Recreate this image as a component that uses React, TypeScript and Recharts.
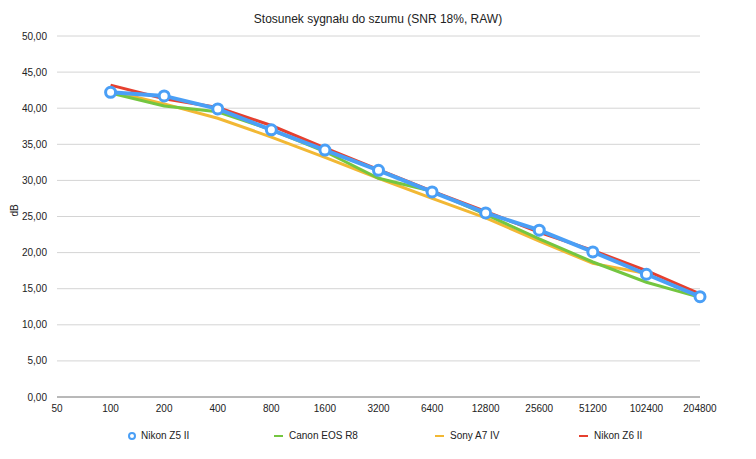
import { LineChart, Line, XAxis, YAxis, CartesianGrid } from "recharts";

// ISO values along the x axis (first one has no data)
const isoLabels = ["50", "100", "200", "400", "800", "1600", "3200", "6400", "12800", "25600", "51200", "102400", "204800"];

// SNR 18% in dB
const nikonZ5II = [null, 42.2, 41.7, 39.9, 37.0, 34.2, 31.4, 28.4, 25.5, 23.1, 20.1, 17.0, 13.9];
const canonR8 = [null, 42.1, 40.3, 39.5, 37.0, 34.0, 30.3, 28.5, 25.3, 21.9, 18.7, 15.9, 13.8];
const sonyA7IV = [null, 42.4, 40.6, 38.6, 36.0, 33.2, 30.3, 27.5, 24.8, 21.6, 18.5, 17.1, null];
const nikonZ6II = [null, 43.2, 41.3, 40.1, 37.6, 34.5, 31.5, 28.5, 25.7, 22.8, 20.3, 17.5, 14.3];

const yTicks = [0, 5, 10, 15, 20, 25, 30, 35, 40, 45, 50];

const COLORS = {
  z5: "#4a9ff6",
  r8: "#74c640",
  a7: "#f2b834",
  z6: "#e6402f",
};

const FONT = "'Liberation Sans', Arial, Helvetica, sans-serif";

const data = isoLabels.map((iso, i) => ({
  iso,
  z5: nikonZ5II[i],
  r8: canonR8[i],
  a7: sonyA7IV[i],
  z6: nikonZ6II[i],
}));

const legendItems = [
  { name: "Nikon Z5 II", color: COLORS.z5, x: 132, marker: true },
  { name: "Canon EOS R8", color: COLORS.r8, x: 279, marker: false },
  { name: "Sony A7 IV", color: COLORS.a7, x: 440, marker: false },
  { name: "Nikon Z6 II", color: COLORS.z6, x: 584, marker: false },
];

const fmt = (v: number) => v.toFixed(2).replace(".", ",");

export default function App() {
  return (
    <div style={{ position: "absolute", left: 0, top: 0, width: 756, height: 459, background: "#fff", fontFamily: FONT }}>
      <div style={{ position: "absolute", top: 12, left: 0, width: 756, textAlign: "center", fontSize: 12, color: "#222" }}>
        Stosunek sygnału do szumu (SNR 18%, RAW)
      </div>
      <LineChart width={756} height={459} data={data} margin={{ top: 36, right: 56, bottom: 32, left: 7 }}>
        <CartesianGrid vertical={false} stroke="#d4d4d4" strokeWidth={1} />
        <XAxis
          dataKey="iso"
          tickLine={false}
          axisLine={{ stroke: "#888", strokeWidth: 1.2 }}
          tick={{ fontSize: 10, fill: "#222", fontFamily: FONT }}
          interval={0}
        />
        <YAxis
          width={50}
          domain={[0, 50]}
          ticks={yTicks}
          tickFormatter={fmt}
          tickLine={false}
          axisLine={false}
          tickMargin={4}
          tick={{ fontSize: 10, fill: "#222", fontFamily: FONT }}
          label={{ value: "dB", angle: -90, position: "insideLeft", offset: 7, style: { fontSize: 10, fill: "#222", fontFamily: FONT } }}
        />
        <Line dataKey="a7" stroke={COLORS.a7} strokeWidth={3} dot={false} type="linear" isAnimationActive={false} />
        <Line dataKey="r8" stroke={COLORS.r8} strokeWidth={3} dot={false} type="linear" isAnimationActive={false} />
        <Line dataKey="z6" stroke={COLORS.z6} strokeWidth={3} dot={false} type="linear" isAnimationActive={false} />
        <Line
          dataKey="z5"
          stroke={COLORS.z5}
          strokeWidth={4}
          type="linear"
          dot={{ r: 5, fill: "#fff", stroke: COLORS.z5, strokeWidth: 3 }}
          isAnimationActive={false}
        />
      </LineChart>
      {legendItems.map((it) => (
        <div key={it.name} style={{ position: "absolute", top: 430, left: it.x - 5, display: "flex", alignItems: "center", fontSize: 10, color: "#222" }}>
          {it.marker ? (
            <span style={{ width: 4, height: 4, borderRadius: "50%", border: `2px solid ${it.color}`, boxSizing: "content-box", marginRight: 5, marginLeft: 1 }} />
          ) : (
            <span style={{ width: 9, height: 2, background: it.color, marginRight: 6 }} />
          )}
          {it.name}
        </div>
      ))}
    </div>
  );
}
